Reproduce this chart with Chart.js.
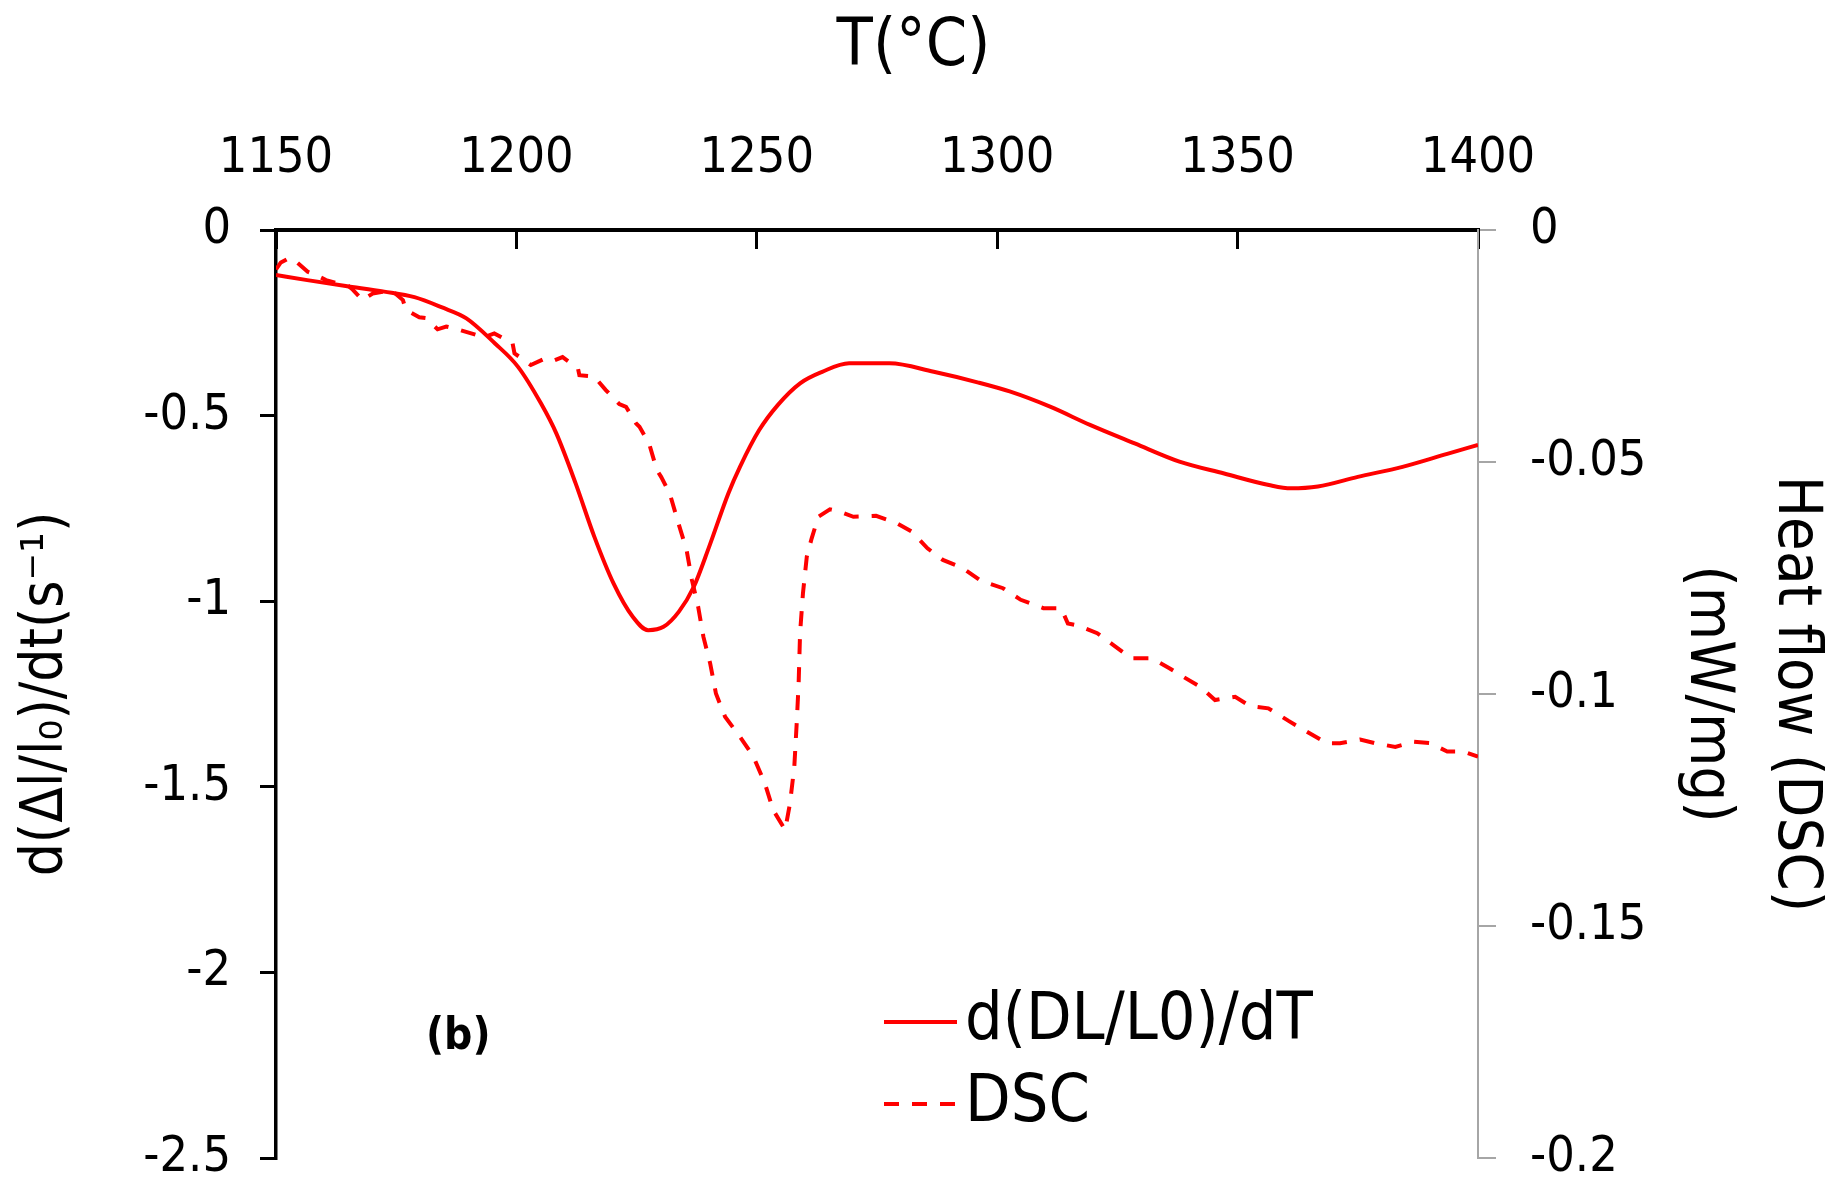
<!DOCTYPE html>
<html>
<head>
<meta charset="utf-8">
<title>Dilatometry rate and DSC</title>
<script src="https://cdn.jsdelivr.net/npm/chart.js@4.4.1/dist/chart.umd.min.js"></script>
<style>
  html, body { margin: 0; padding: 0; background: #fff; }
  #wrap { width: 1827px; height: 1182px; }
</style>
</head>
<body>
<div id="wrap"><canvas id="dilChart" width="1827" height="1182"></canvas></div>
<script>
const FONT = "'DejaVu Sans Condensed', 'DejaVu Sans', sans-serif";

// d(DL/L0)/dT
const rateTemp = [1150.0, 1156.5, 1164.5, 1172.5, 1178.8, 1184.4, 1189.6, 1195.5, 1200.3, 1205.1,
  1208.3, 1212.3, 1216.2, 1220.2, 1224.2, 1227.4, 1230.6, 1233.8, 1236.9, 1240.1,
  1244.1, 1246.5, 1250.5, 1254.4, 1259.0, 1263.6, 1269.2, 1277.6, 1286.8, 1296.1,
  1302.6, 1311.0, 1319.3, 1328.6, 1337.9, 1347.2, 1356.5, 1361.1, 1366.7, 1375.0,
  1384.3, 1393.6, 1400.0];
const rateValues = [-0.121, -0.135, -0.151, -0.166, -0.181, -0.208, -0.238, -0.305, -0.368, -0.467,
  -0.548, -0.682, -0.826, -0.952, -1.042, -1.078, -1.069, -1.028, -0.961, -0.853,
  -0.709, -0.638, -0.539, -0.471, -0.413, -0.382, -0.359, -0.359, -0.382, -0.411,
  -0.435, -0.476, -0.525, -0.575, -0.624, -0.656, -0.687, -0.696, -0.691, -0.665,
  -0.638, -0.603, -0.579];

// DSC heat flow
const dscTemp = [1150.0, 1151.0, 1152.8, 1154.2, 1156.6, 1158.3, 1160.4, 1162.8, 1164.9, 1166.0,
  1168.0, 1170.1, 1172.2, 1173.9, 1176.4, 1177.0, 1179.8, 1181.2, 1183.6, 1185.4,
  1187.8, 1191.6, 1193.3, 1195.4, 1199.2, 1199.6, 1201.6, 1203.0, 1205.5, 1207.2,
  1209.6, 1212.8, 1213.1, 1216.2, 1218.6, 1221.4, 1222.8, 1224.9, 1225.6, 1227.6,
  1229.2, 1230.1, 1231.9, 1233.7, 1235.4, 1236.5, 1237.8, 1238.9, 1240.3, 1241.5,
  1243.4, 1246.5, 1249.3, 1251.7, 1253.4, 1255.9, 1256.9, 1257.8, 1258.3, 1258.7,
  1259.0, 1259.6, 1260.4, 1261.4, 1262.8, 1265.2, 1267.3, 1270.1, 1274.8, 1279.0,
  1282.2, 1285.5, 1288.7, 1292.9, 1296.6, 1301.2, 1304.9, 1309.6, 1313.3, 1314.7,
  1317.0, 1320.8, 1324.1, 1327.9, 1332.1, 1335.9, 1338.7, 1342.2, 1345.3, 1349.5,
  1352.6, 1356.4, 1360.6, 1364.7, 1368.6, 1371.3, 1375.5, 1378.6, 1382.8, 1386.6,
  1390.1, 1393.6, 1397.0, 1400.0];
const dscValues = [-0.0085, -0.0070, -0.0060, -0.0068, -0.0090, -0.0097, -0.0108, -0.0115, -0.0119, -0.0129,
  -0.0151, -0.0137, -0.0133, -0.0129, -0.0151, -0.0172, -0.0188, -0.0190, -0.0214, -0.0208,
  -0.0214, -0.0226, -0.0231, -0.0223, -0.0244, -0.0266, -0.0280, -0.0291, -0.0279, -0.0284,
  -0.0274, -0.0298, -0.0313, -0.0316, -0.0345, -0.0375, -0.0381, -0.0417, -0.0424, -0.0460,
  -0.0517, -0.0532, -0.0568, -0.0632, -0.0690, -0.0754, -0.0812, -0.0877, -0.0934, -0.0999,
  -0.1049, -0.1092, -0.1135, -0.1193, -0.1250, -0.1293, -0.1236, -0.1157, -0.1063, -0.0977,
  -0.0869, -0.0783, -0.0704, -0.0665, -0.0618, -0.0602, -0.0607, -0.0618, -0.0616, -0.0631,
  -0.0650, -0.0686, -0.0711, -0.0729, -0.0756, -0.0772, -0.0797, -0.0815, -0.0815, -0.0848,
  -0.0853, -0.0869, -0.0894, -0.0923, -0.0923, -0.0945, -0.0963, -0.0984, -0.1013, -0.1006,
  -0.1026, -0.1031, -0.1058, -0.1083, -0.1106, -0.1106, -0.1098, -0.1106, -0.1114, -0.1103,
  -0.1106, -0.1124, -0.1124, -0.1135];

const seriesLabels = ['d(DL/L0)/dT', 'DSC'];

// axis ranges: min, max, step
const tempRange = [1150, 1400, 50];
const rateRange = [-2.5, 0, 0.5];
const flowRange = [-0.2, 0, 0.05];

function toPoints(xs, ys) {
  return xs.map((x, i) => ({ x: x, y: ys[i] }));
}

function plainTick(v) {
  return String(Number(v.toFixed(2)));
}

// y scales: keep the fixed width and stop the tick padding from lifting the plot bottom
function fixWidth(w) {
  return s => {
    s.width = w;
    s.paddingBottom = 24;
  };
}

// legend drawn inside the plot, plus the panel tag
const insetLegend = {
  id: 'insetLegend',
  afterDraw(chart, args, opts) {
    const ctx = chart.ctx;
    ctx.save();
    chart.data.datasets.forEach((ds, i) => {
      const y = opts.y + i * opts.rowGap;
      ctx.strokeStyle = ds.borderColor;
      ctx.lineWidth = ds.borderWidth;
      ctx.setLineDash(ds.borderDash || []);
      ctx.beginPath();
      ctx.moveTo(opts.x, y);
      ctx.lineTo(opts.x + opts.lineLength, y);
      ctx.stroke();
      ctx.setLineDash([]);
      ctx.fillStyle = '#000';
      ctx.font = opts.fontSize + 'px ' + FONT;
      ctx.textAlign = 'left';
      ctx.textBaseline = 'middle';
      ctx.fillText(ds.label, opts.x + opts.lineLength + opts.gap, y);
    });
    ctx.font = 'bold ' + opts.tagSize + 'px ' + FONT;
    ctx.fillText('(b)', opts.tagX, opts.tagY);
    ctx.restore();
  }
};

Chart.defaults.font.family = FONT;
Chart.defaults.color = '#000';

new Chart(document.getElementById('dilChart').getContext('2d'), {
  type: 'line',
  data: {
    datasets: [{
      label: seriesLabels[0],
      data: toPoints(rateTemp, rateValues),
      yAxisID: 'y',
      borderColor: '#ff0000',
      borderWidth: 4,
      pointRadius: 0,
      cubicInterpolationMode: 'monotone',
      fill: false
    }, {
      label: seriesLabels[1],
      data: toPoints(dscTemp, dscValues),
      yAxisID: 'y1',
      borderColor: '#ff0000',
      borderWidth: 4,
      borderDash: [15, 13],
      pointRadius: 0,
      tension: 0,
      fill: false
    }]
  },
  options: {
    responsive: false,
    animation: false,
    devicePixelRatio: 1,
    layout: { padding: 0 },
    plugins: {
      legend: { display: false },
      tooltip: { enabled: false },
      title: {
        display: true,
        text: 'T(°C)',
        color: '#000',
        font: { size: 66, weight: 'normal' },
        padding: { top: 8, bottom: 0 }
      },
      insetLegend: {
        x: 884, y: 1022, rowGap: 82, lineLength: 73, gap: 8, fontSize: 66,
        tagX: 426, tagY: 1038, tagSize: 44
      }
    },
    scales: {
      x: {
        type: 'linear',
        position: 'top',
        min: tempRange[0],
        max: tempRange[1],
        ticks: {
          stepSize: tempRange[2], padding: 65, maxRotation: 0,
          callback: v => String(v),
          font: { size: 50, lineHeight: 1 }
        },
        grid: { drawOnChartArea: false, drawTicks: true, tickLength: -19, color: '#000', lineWidth: 3 },
        border: { display: true, color: '#000', width: 4 },
        afterFit: s => { s.height = 142.8; }
      },
      y: {
        position: 'left',
        min: rateRange[0],
        max: rateRange[1],
        ticks: { stepSize: rateRange[2], padding: 29, callback: plainTick, font: { size: 50, lineHeight: 1 } },
        grid: { drawOnChartArea: false, tickLength: 16, color: '#000', lineWidth: 3 },
        border: { display: true, color: '#000', width: 3.5 },
        title: {
          display: true,
          text: 'd(Δl/l₀)/dt(s⁻¹)',
          font: { size: 58 },
          padding: { top: 12, bottom: 0 }
        },
        afterFit: fixWidth(276)
      },
      y1: {
        position: 'right',
        min: flowRange[0],
        max: flowRange[1],
        ticks: { stepSize: flowRange[2], padding: 34, callback: plainTick, font: { size: 50, lineHeight: 1 } },
        grid: { drawOnChartArea: false, tickLength: 18, color: '#a6a6a6', lineWidth: 2 },
        border: { display: true, color: '#a6a6a6', width: 2 },
        title: {
          display: true,
          text: ['Heat flow (DSC)', '(mW/mg)'],
          font: { size: 61, lineHeight: 1.443 },
          padding: { top: -12, bottom: 0 }
        },
        afterFit: fixWidth(349)
      }
    }
  },
  plugins: [insetLegend]
});
</script>
</body>
</html>
